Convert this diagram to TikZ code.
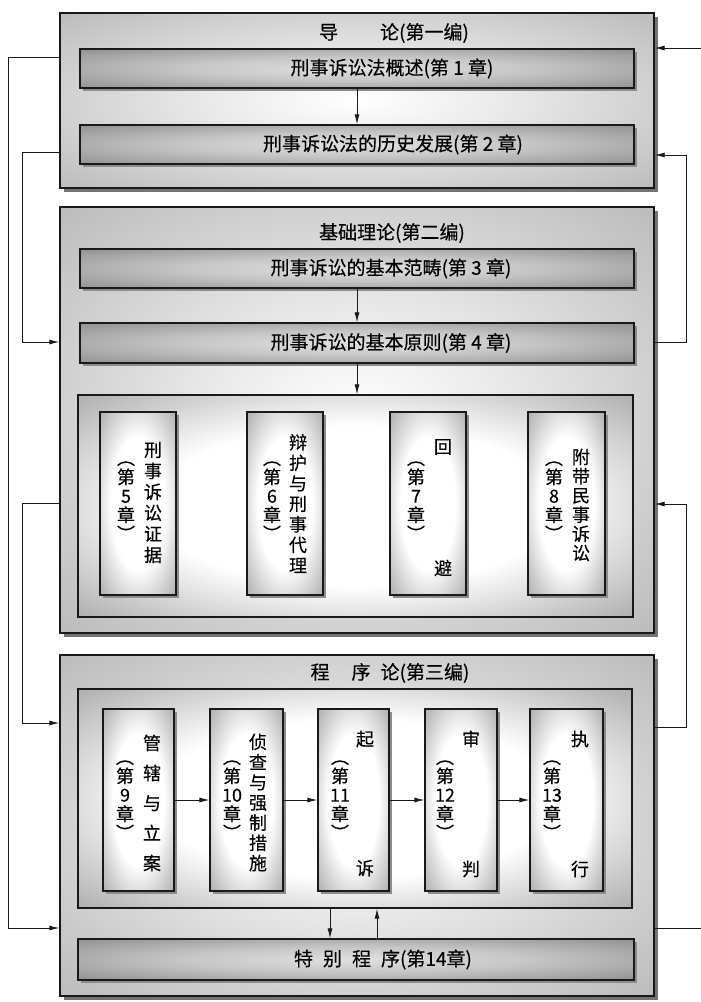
\documentclass[tikz,border=0pt]{standalone}
\usepackage{fontspec}
\newfontfamily\cjk[FakeBold=0.4]{Noto Sans CJK SC}
\usetikzlibrary{arrows.meta,shadows}
\pgfdeclareradialshading{outershade}{\pgfpoint{0bp}{0bp}}{color(0bp)=(white); color(12bp)=(black!8); color(50bp)=(black!38); color(75bp)=(black!45)}
\pgfdeclareradialshading{barshade}{\pgfpoint{0bp}{0bp}}{color(0bp)=(black!12); color(15bp)=(black!22); color(50bp)=(black!58); color(75bp)=(black!65)}
\pgfdeclareradialshading{colshade}{\pgfpoint{0bp}{0bp}}{color(0bp)=(white); color(18bp)=(white); color(50bp)=(black!58); color(75bp)=(black!66)}
\begin{document}
\begin{tikzpicture}[x=1pt,y=-1pt,
  outerbox/.style={draw=black!90, line width=1.4pt, shading=outershade,
    drop shadow={shadow xshift=4pt, shadow yshift=-4pt, fill=black!55, opacity=1},
    minimum width=594pt, inner sep=0pt},
  barbox/.style={draw=black!90, line width=1.3pt, shading=barshade,
    drop shadow={shadow xshift=3pt, shadow yshift=-3pt, fill=black!45, opacity=1},
    minimum width=554pt, minimum height=39pt, inner sep=0pt},
  colbox/.style={draw=black!90, line width=1.2pt, shading=colshade,
    drop shadow={shadow xshift=3pt, shadow yshift=-3pt, fill=black!45, opacity=1},
    inner sep=0pt},
  container/.style={draw=black!90, line width=1.3pt, shading=colshade, inner sep=0pt},
  conn/.style={line width=0.9pt, draw=black!90},
  arr/.style={conn, -{Latex[length=10pt,width=5pt]}},
  lbl/.style={font=\cjk\fontsize{19}{22}\selectfont, inner sep=0pt},
  vlbl/.style={font=\cjk\fontsize{18}{20.5}\selectfont, align=center, inner sep=0pt},
  plbl/.style={font=\cjk\fontsize{18}{19}\selectfont, align=center, inner sep=0pt}
]
\useasboundingbox (0,0) rectangle (701,1002);

% ---- outer boxes
\node[outerbox, minimum height=175pt] (B1) at (357,100.5) {};
\node[outerbox, minimum height=426pt] (B2) at (357,420) {};
\node[outerbox, minimum height=341pt] (B3) at (357,825.5) {};

% ---- titles
\node[lbl] (T1) at (394,33) {导\hspace{42pt}论(第一编)};
\node[lbl] (T2) at (392,233) {基础理论(第二编)};
\node[lbl] (T3) at (390,673) {程\hspace{22pt}序\hspace{10pt}论(第三编)};

% ---- part 1
\node[barbox] (C1) at (357,68.5) {};
\node[lbl] (C1t) at (392,68.5) {刑事诉讼法概述(第 1 章)};
\node[barbox] (C2) at (357,144.5) {};
\node[lbl] (C2t) at (393,144.5) {刑事诉讼法的历史发展(第 2 章)};

% ---- part 2
\node[barbox] (C3) at (357,268.5) {};
\node[lbl] (C3t) at (391,268.5) {刑事诉讼的基本范畴(第 3 章)};
\node[barbox, minimum height=40pt] (C4) at (357,343) {};
\node[lbl] (C4t) at (391,343) {刑事诉讼的基本原则(第 4 章)};
\node[container, minimum width=555pt, minimum height=222pt] (K2) at (355.5,506) {};

\node[colbox, minimum width=76pt, minimum height=183pt] (V5) at (138,503.5) {};
\node[colbox, minimum width=76pt, minimum height=183pt] (V6) at (285,503.5) {};
\node[colbox, minimum width=76pt, minimum height=183pt] (V7) at (428,503.5) {};
\node[colbox, minimum width=77pt, minimum height=183pt] (V8) at (566.5,503.5) {};

\node[vlbl, font=\cjk\fontsize{18}{21}\selectfont] (V5a) at (153,502.5) {刑\\事\\诉\\讼\\证\\据};
\node[plbl] (V5b) at (126,501) {︵\\第\\5\\章\\︶};
\node[vlbl] (V6a) at (298,503.5) {辩\\护\\与\\刑\\事\\代\\理};
\node[plbl] (V6b) at (272,501) {︵\\第\\6\\章\\︶};
\node[vlbl] (V7a) at (443,447) {回};
\node[vlbl] (V7c) at (443,568) {避};
\node[plbl] (V7b) at (416,501) {︵\\第\\7\\章\\︶};
\node[vlbl, font=\cjk\fontsize{18}{19.2}\selectfont] (V8a) at (581,505) {附\\带\\民\\事\\诉\\讼};
\node[plbl] (V8b) at (554,501) {︵\\第\\8\\章\\︶};

% ---- part 3
\node[container, minimum width=554pt, minimum height=219pt] (K3) at (355,798.5) {};
\node[colbox, minimum width=71pt, minimum height=182pt] (V9) at (138.5,800) {};
\node[colbox, minimum width=73pt, minimum height=182pt] (V10) at (246.5,800) {};
\node[colbox, minimum width=71pt, minimum height=182pt] (V11) at (353.5,800) {};
\node[colbox, minimum width=72pt, minimum height=182pt] (V12) at (461,800) {};
\node[colbox, minimum width=73pt, minimum height=182pt] (V13) at (566.5,800) {};

\node[vlbl, font=\cjk\fontsize{18}{30}\selectfont] (V9a) at (152,803) {管\\辖\\与\\立\\案};
\node[plbl] (V9b) at (125,800) {︵\\第\\9\\章\\︶};
\node[vlbl, font=\cjk\fontsize{18}{20.2}\selectfont] (V10a) at (258,802.5) {侦\\查\\与\\强\\制\\措\\施};
\node[plbl] (V10b) at (232,800) {︵\\第\\10\\章\\︶};
\node[vlbl] (V11a) at (365,739) {起};
\node[vlbl] (V11c) at (365,868) {诉};
\node[plbl] (V11b) at (340,800) {︵\\第\\11\\章\\︶};
\node[vlbl] (V12a) at (471,739) {审};
\node[vlbl] (V12c) at (471,869) {判};
\node[plbl] (V12b) at (445,800) {︵\\第\\12\\章\\︶};
\node[vlbl] (V13a) at (580,739) {执};
\node[vlbl] (V13c) at (580,869) {行};
\node[plbl] (V13b) at (552,800) {︵\\第\\13\\章\\︶};

\node[barbox, minimum width=556pt, minimum height=41pt] (C14) at (356,959.5) {};
\node[lbl] (C14t) at (383,959.5) {特\hspace{10pt}别\hspace{10pt}程\hspace{10pt}序(第14章)};

% ---- inner arrows
\draw[arr] (C1) -- (C2);
\draw[arr] (C3) -- (C4);
\draw[arr] (C4.south) -- (C4.south |- K2.north);
\draw[arr] (V9) -- (V10);
\draw[arr] (V10) -- (V11);
\draw[arr] (V11) -- (V12);
\draw[arr] (V12) -- (V13);
\coordinate (dn) at (330,0);
\coordinate (up) at (377,0);
\draw[arr] (K3.south -| dn) -- (C14.north -| dn);
\draw[arr] (C14.north -| up) -- (K3.south -| up);

% ---- outer connectors
\coordinate (L1) at (8,57);
\coordinate (L1b) at (8,928);
\draw[arr] (B1.west |- L1) -| (L1b) -- (B3.west |- L1b);
\coordinate (L2) at (22,152);
\coordinate (L2b) at (22,342);
\draw[arr] (B1.west |- L2) -| (L2b) -- (B2.west |- L2b);
\coordinate (R1) at (686,155);
\coordinate (R1b) at (686,342);
\draw[arr] (B2.east |- R1b) -| (R1) -- (B1.east |- R1);
\coordinate (L3) at (22,503);
\coordinate (L3b) at (22,723);
\draw[arr] (B2.west |- L3) -| (L3b) -- (B3.west |- L3b);
\coordinate (R2) at (686,504);
\coordinate (R2b) at (686,727);
\draw[arr] (B3.east |- R2b) -| (R2) -- (B2.east |- R2);
\coordinate (E1) at (701,928);
\coordinate (E2) at (701,48);
\draw[conn] (B3.east |- E1) -- (E1);
\draw[arr] (E2) -- (B1.east |- E2);
\end{tikzpicture}
\end{document}
